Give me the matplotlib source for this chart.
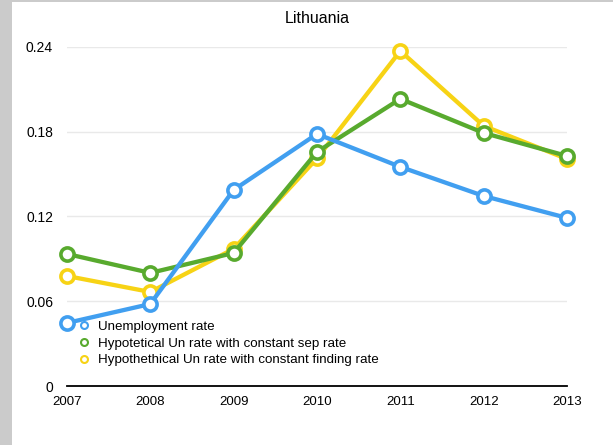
import matplotlib
matplotlib.use("Agg")
import matplotlib.pyplot as plt
from matplotlib.lines import Line2D
from matplotlib.patches import Rectangle

plt.rcParams['font.family'] = ['Liberation Sans', 'DejaVu Sans']

years = [2007, 2008, 2009, 2010, 2011, 2012, 2013]
unemployment = [0.0446, 0.058, 0.1387, 0.1783, 0.155, 0.1344, 0.1189]
const_sep = [0.0934, 0.080, 0.0941, 0.1656, 0.2031, 0.179, 0.1627]
const_finding = [0.0778, 0.0665, 0.097, 0.161, 0.237, 0.184, 0.1606]

labels = ["Unemployment rate",
          "Hypotetical Un rate with constant sep rate",
          "Hypothethical Un rate with constant finding rate"]
colors = ["#419ff0", "#58aa2e", "#f7d315"]
yticks = [0, 0.06, 0.12, 0.18, 0.24]
ytick_labels = ["0", "0.06", "0.12", "0.18", "0.24"]

fig = plt.figure(figsize=(6.13, 4.45), dpi=100)
fig.patch.set_facecolor("white")
# grey frame strips on the left and top edge
fig.patches.append(Rectangle((0, 0), 12 / 613, 1, transform=fig.transFigure,
                             facecolor="#cbcbcb", edgecolor="none", zorder=-10))
fig.patches.append(Rectangle((0, 1 - 1.5 / 445), 1, 1.5 / 445, transform=fig.transFigure,
                             facecolor="#cbcbcb", edgecolor="none", zorder=-10))

ax = fig.add_axes([67 / 613, (445 - 386) / 445, 500 / 613, 339.3 / 445])
ax.set_xlim(2007, 2013)
ax.set_ylim(0, 0.24)

for y in yticks[1:]:
    ax.axhline(y, color="#e9e9e9", lw=1, zorder=0)

series = [(const_finding, colors[2], 1), (const_sep, colors[1], 2), (unemployment, colors[0], 3)]
for vals, c, z in series:
    ax.plot(years, vals, color=c, lw=3.1, marker="o", ms=9.5, mfc="white",
            mec=c, mew=2.6, zorder=z, clip_on=False)

for s in ["top", "right", "left"]:
    ax.spines[s].set_visible(False)
ax.spines["bottom"].set_color("black")
ax.spines["bottom"].set_linewidth(1.3)

ax.set_xticks(years)
ax.set_xticklabels([str(y) for y in years], fontsize=9.5)
ax.set_yticks(yticks)
ax.set_yticklabels(ytick_labels, fontsize=10)
ax.tick_params(axis="x", length=0, pad=7)
ax.tick_params(axis="y", length=0, pad=10)

ax.set_title("Lithuania", fontsize=11.5, pad=17)

handles = [Line2D([], [], ls="none", marker="o", ms=5, mfc="white", mec=c, mew=1.5)
           for c in colors]
ax.legend(handles, labels, loc="upper left", bbox_to_anchor=(0.02, 0.193),
          frameon=False, fontsize=9.6, handlelength=1.0, handletextpad=0.55,
          labelspacing=0.33, borderpad=0, borderaxespad=0)

fig.savefig("out.png", dpi=100, facecolor="white")
